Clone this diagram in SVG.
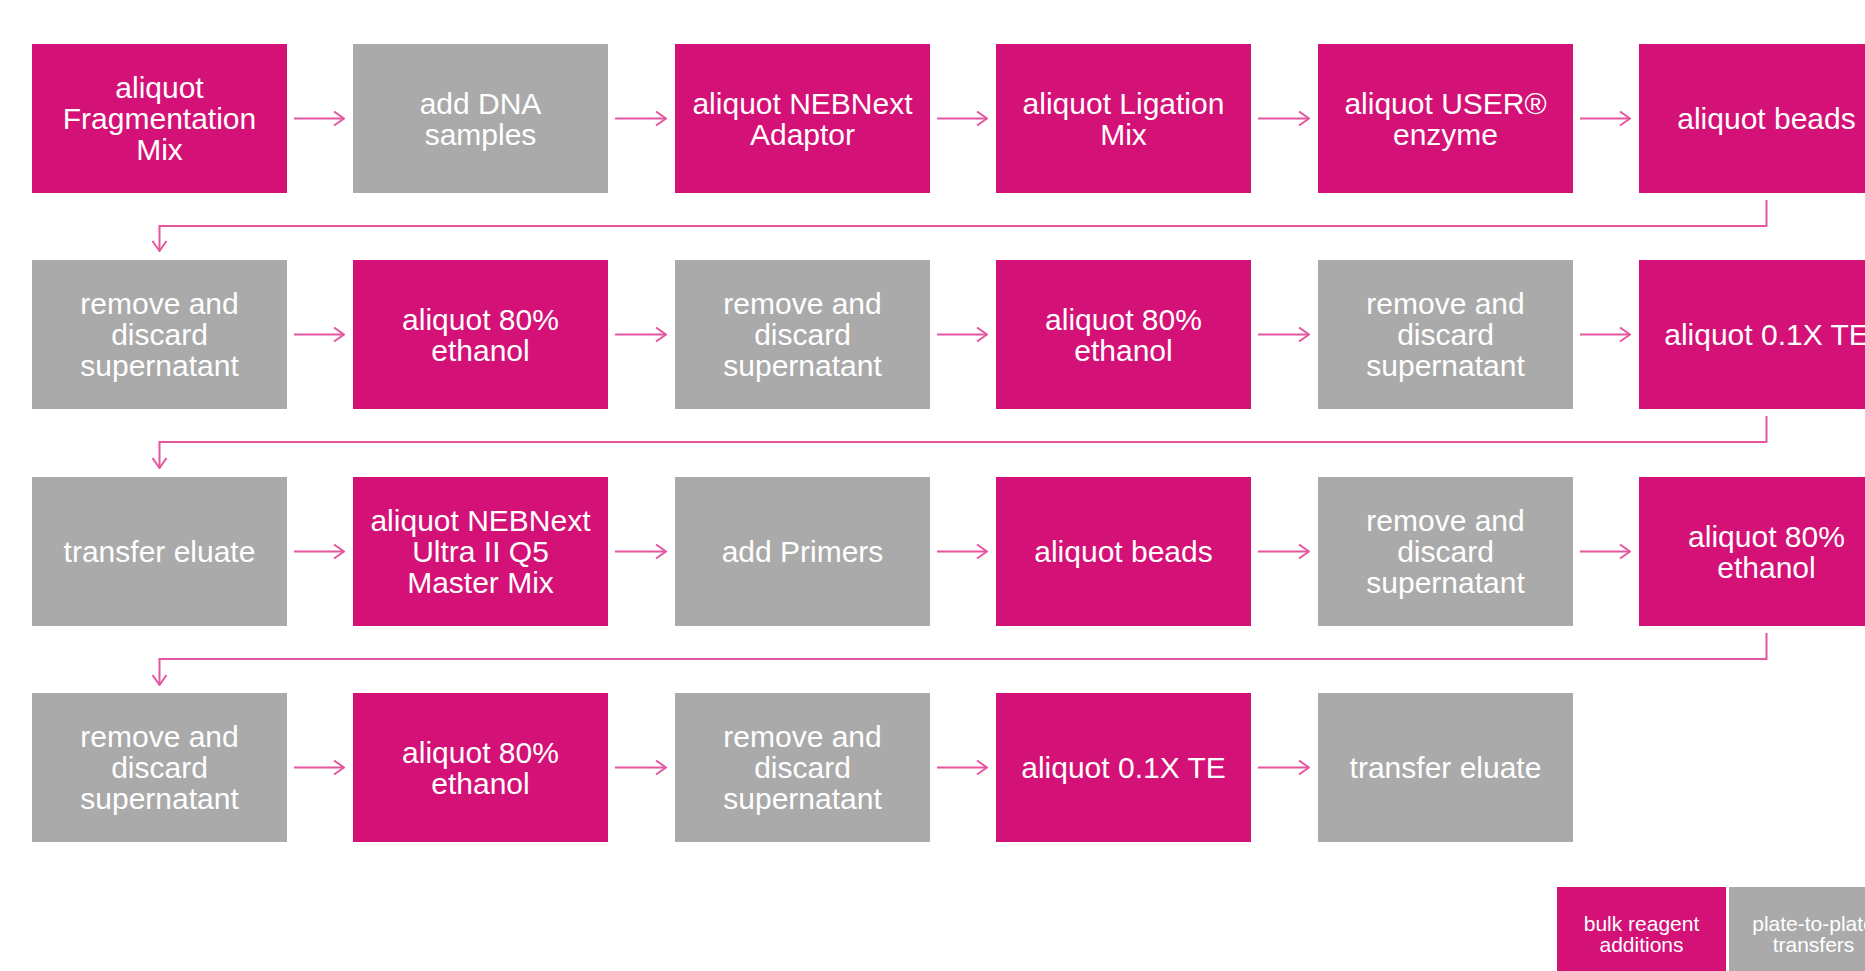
<svg xmlns="http://www.w3.org/2000/svg" width="1865" height="971" viewBox="0 0 1865 971">
<style>
.pink{fill:#D41177}
.gray{fill:#AAAAAA}
.t{font-family:"Liberation Sans",Arial,sans-serif;font-size:30px;fill:#FFFFFF;text-anchor:middle}
.lt{font-family:"Liberation Sans",Arial,sans-serif;font-size:21px;fill:#FFFFFF;text-anchor:middle}
.c{fill:none;stroke:#E4579E;stroke-width:2}
</style>
<defs>
<marker id="ah" viewBox="0 0 12 16" refX="11" refY="8" markerWidth="12" markerHeight="16" markerUnits="userSpaceOnUse" orient="auto">
<path d="M1,1 L11,8 L1,15" fill="none" stroke="#E4579E" stroke-width="2"/>
</marker>
</defs>
<rect width="1865" height="971" fill="#FFFFFF"/>
<g id="connectors">
<path class="c" d="M294,118.5 H344" marker-end="url(#ah)"/>
<path class="c" d="M615,118.5 H666" marker-end="url(#ah)"/>
<path class="c" d="M937,118.5 H987" marker-end="url(#ah)"/>
<path class="c" d="M1258,118.5 H1309" marker-end="url(#ah)"/>
<path class="c" d="M1580,118.5 H1630" marker-end="url(#ah)"/>
<path class="c" d="M1766.5,200 V226 H159.5 V251" marker-end="url(#ah)"/>
<path class="c" d="M294,334.5 H344" marker-end="url(#ah)"/>
<path class="c" d="M615,334.5 H666" marker-end="url(#ah)"/>
<path class="c" d="M937,334.5 H987" marker-end="url(#ah)"/>
<path class="c" d="M1258,334.5 H1309" marker-end="url(#ah)"/>
<path class="c" d="M1580,334.5 H1630" marker-end="url(#ah)"/>
<path class="c" d="M1766.5,416 V442 H159.5 V468" marker-end="url(#ah)"/>
<path class="c" d="M294,551.5 H344" marker-end="url(#ah)"/>
<path class="c" d="M615,551.5 H666" marker-end="url(#ah)"/>
<path class="c" d="M937,551.5 H987" marker-end="url(#ah)"/>
<path class="c" d="M1258,551.5 H1309" marker-end="url(#ah)"/>
<path class="c" d="M1580,551.5 H1630" marker-end="url(#ah)"/>
<path class="c" d="M1766.5,633 V659 H159.5 V685" marker-end="url(#ah)"/>
<path class="c" d="M294,767.5 H344" marker-end="url(#ah)"/>
<path class="c" d="M615,767.5 H666" marker-end="url(#ah)"/>
<path class="c" d="M937,767.5 H987" marker-end="url(#ah)"/>
<path class="c" d="M1258,767.5 H1309" marker-end="url(#ah)"/>
</g>
<!-- Row 1 -->
<g id="n1"><rect class="pink" x="32" y="44" width="255" height="149"/><text class="t" x="159.5" y="98">aliquot</text><text class="t" x="159.5" y="129">Fragmentation</text><text class="t" x="159.5" y="160">Mix</text></g>
<g id="n2"><rect class="gray" x="353" y="44" width="255" height="149"/><text class="t" x="480.5" y="113.5">add DNA</text><text class="t" x="480.5" y="144.5">samples</text></g>
<g id="n3"><rect class="pink" x="675" y="44" width="255" height="149"/><text class="t" x="802.5" y="113.5">aliquot NEBNext</text><text class="t" x="802.5" y="144.5">Adaptor</text></g>
<g id="n4"><rect class="pink" x="996" y="44" width="255" height="149"/><text class="t" x="1123.5" y="113.5">aliquot Ligation</text><text class="t" x="1123.5" y="144.5">Mix</text></g>
<g id="n5"><rect class="pink" x="1318" y="44" width="255" height="149"/><text class="t" x="1445.5" y="113.5">aliquot USER®</text><text class="t" x="1445.5" y="144.5">enzyme</text></g>
<g id="n6"><rect class="pink" x="1639" y="44" width="255" height="149"/><text class="t" x="1766.5" y="129">aliquot beads</text></g>
<!-- Row 2 -->
<g id="n7"><rect class="gray" x="32" y="260" width="255" height="149"/><text class="t" x="159.5" y="314">remove and</text><text class="t" x="159.5" y="345">discard</text><text class="t" x="159.5" y="376">supernatant</text></g>
<g id="n8"><rect class="pink" x="353" y="260" width="255" height="149"/><text class="t" x="480.5" y="329.5">aliquot 80%</text><text class="t" x="480.5" y="360.5">ethanol</text></g>
<g id="n9"><rect class="gray" x="675" y="260" width="255" height="149"/><text class="t" x="802.5" y="314">remove and</text><text class="t" x="802.5" y="345">discard</text><text class="t" x="802.5" y="376">supernatant</text></g>
<g id="n10"><rect class="pink" x="996" y="260" width="255" height="149"/><text class="t" x="1123.5" y="329.5">aliquot 80%</text><text class="t" x="1123.5" y="360.5">ethanol</text></g>
<g id="n11"><rect class="gray" x="1318" y="260" width="255" height="149"/><text class="t" x="1445.5" y="314">remove and</text><text class="t" x="1445.5" y="345">discard</text><text class="t" x="1445.5" y="376">supernatant</text></g>
<g id="n12"><rect class="pink" x="1639" y="260" width="255" height="149"/><text class="t" x="1766.5" y="345">aliquot 0.1X TE</text></g>
<!-- Row 3 -->
<g id="n13"><rect class="gray" x="32" y="477" width="255" height="149"/><text class="t" x="159.5" y="562">transfer eluate</text></g>
<g id="n14"><rect class="pink" x="353" y="477" width="255" height="149"/><text class="t" x="480.5" y="531">aliquot NEBNext</text><text class="t" x="480.5" y="562">Ultra II Q5</text><text class="t" x="480.5" y="593">Master Mix</text></g>
<g id="n15"><rect class="gray" x="675" y="477" width="255" height="149"/><text class="t" x="802.5" y="562">add Primers</text></g>
<g id="n16"><rect class="pink" x="996" y="477" width="255" height="149"/><text class="t" x="1123.5" y="562">aliquot beads</text></g>
<g id="n17"><rect class="gray" x="1318" y="477" width="255" height="149"/><text class="t" x="1445.5" y="531">remove and</text><text class="t" x="1445.5" y="562">discard</text><text class="t" x="1445.5" y="593">supernatant</text></g>
<g id="n18"><rect class="pink" x="1639" y="477" width="255" height="149"/><text class="t" x="1766.5" y="546.5">aliquot 80%</text><text class="t" x="1766.5" y="577.5">ethanol</text></g>
<!-- Row 4 -->
<g id="n19"><rect class="gray" x="32" y="693" width="255" height="149"/><text class="t" x="159.5" y="747">remove and</text><text class="t" x="159.5" y="778">discard</text><text class="t" x="159.5" y="809">supernatant</text></g>
<g id="n20"><rect class="pink" x="353" y="693" width="255" height="149"/><text class="t" x="480.5" y="762.5">aliquot 80%</text><text class="t" x="480.5" y="793.5">ethanol</text></g>
<g id="n21"><rect class="gray" x="675" y="693" width="255" height="149"/><text class="t" x="802.5" y="747">remove and</text><text class="t" x="802.5" y="778">discard</text><text class="t" x="802.5" y="809">supernatant</text></g>
<g id="n22"><rect class="pink" x="996" y="693" width="255" height="149"/><text class="t" x="1123.5" y="778">aliquot 0.1X TE</text></g>
<g id="n23"><rect class="gray" x="1318" y="693" width="255" height="149"/><text class="t" x="1445.5" y="778">transfer eluate</text></g>
<!-- Legend -->
<g id="legend-bulk"><rect class="pink" x="1557" y="887" width="169" height="84"/><text class="lt" x="1641.5" y="931">bulk reagent</text><text class="lt" x="1641.5" y="952">additions</text></g>
<g id="legend-transfer"><rect class="gray" x="1729" y="887" width="169" height="84"/><text class="lt" x="1813.5" y="931">plate-to-plate</text><text class="lt" x="1813.5" y="952">transfers</text></g>
</svg>
